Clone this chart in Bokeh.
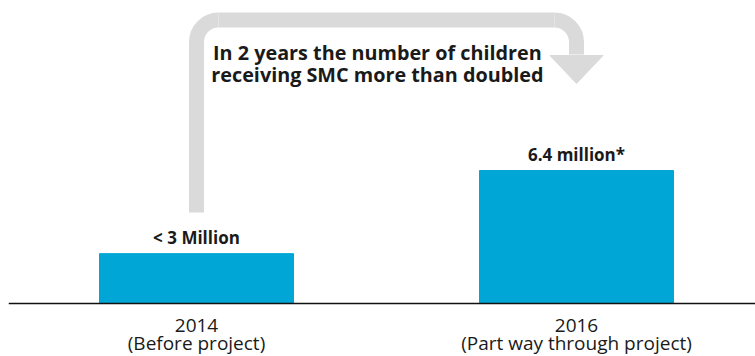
from bokeh.plotting import figure
from bokeh.models import Range1d, ColumnDataSource, Span
from bokeh.core.properties import value
from bokeh.embed import file_html
from bokeh.resources import INLINE

# ---- data ----
years = ["2014", "2016"]
notes = ["(Before project)", "(Part way through project)"]
children_millions = [2.4, 6.4]
bar_labels = ["< 3 Million", "6.4 million*"]
headline = ["In 2 years the number of children", "receiving SMC more than doubled"]

FONT = "Open Sans"
BAR = "#00a7d6"
GREY = "#dadada"
INK = "#1a1a1a"

xs = list(range(len(years)))
src = ColumnDataSource(dict(x=xs, top=children_millions, label=bar_labels,
                            year=years, note=notes, zero=[0] * len(xs)))

# frame: 747 x 356 px ; baseline 53 px above bottom ; 1 x-unit = 380 px ; 1 y-unit = 20.78 px
XPX, YPX = 380.0, 20.78
p = figure(width=755, height=356, output_backend="svg", toolbar_location=None,
           x_range=Range1d(-188 / XPX, 1 + 179 / XPX), y_range=Range1d(-53 / YPX, 303 / YPX),
           min_border_left=8, min_border_right=0, min_border_top=0, min_border_bottom=0)
p.outline_line_color = None
p.background_fill_color = "white"
p.border_fill_color = "white"
p.grid.visible = False
p.axis.visible = False

p.vbar(x="x", top="top", width=194 / XPX, bottom=0, source=src, color=BAR)
p.text(x="x", y="top", text="label", source=src, y_offset=-16,
       text_align="center", text_baseline="alphabetic",
       text_font=value(FONT), text_font_style="bold", text_font_size="17px", text_color=INK)

# baseline (category axis line)
p.add_layout(Span(location=0, dimension="width", line_color="#111111", line_width=1.6))

# category labels under the baseline
p.text(x="x", y="zero", text="year", source=src, y_offset=21.5,
       text_align="center", text_baseline="alphabetic",
       text_font=value(FONT), text_font_size="19px", text_color=INK)
p.text(x="x", y="zero", text="note", source=src, y_offset=39.5,
       text_align="center", text_baseline="alphabetic",
       text_font=value(FONT), text_font_size="19px", text_color=INK)

# ---- curved arrow from first bar to second ----
x0, x1 = xs[0], xs[1]
ytop = (303 - 19.5) / YPX
ybot = (303 - 212) / YPX
R = 22
rx, ry = R / XPX, R / YPX
yhead = (303 - 55) / YPX
lw = 15
p.segment(x0=[x0, x0 + rx, x1], y0=[ybot, ytop, ytop - ry],
          x1=[x0, x1 - rx, x1], y1=[ytop - ry, ytop, yhead + 0.05],
          line_color=GREY, line_width=lw, line_cap="butt")
p.arc(x=[x0 + rx, x1 - rx], y=[ytop - ry, ytop - ry], radius=R, radius_units="screen",
      start_angle=[1.5708, 0.0], end_angle=[3.1416, 1.5708],
      line_color=GREY, line_width=lw, line_cap="butt")
hw = 26.5 / XPX
p.patch(x=[x1 - hw, x1 + hw, x1], y=[yhead, yhead, yhead - 28 / YPX], color=GREY)

p.text(x=[0.476, 0.476], y=[(303 - 52) / YPX, (303 - 74) / YPX], text=headline,
       text_align="center", text_baseline="alphabetic",
       text_font=value(FONT), text_font_style="bold", text_font_size="19.8px", text_color=INK)

open("out.html", "w").write(file_html(p, INLINE))
